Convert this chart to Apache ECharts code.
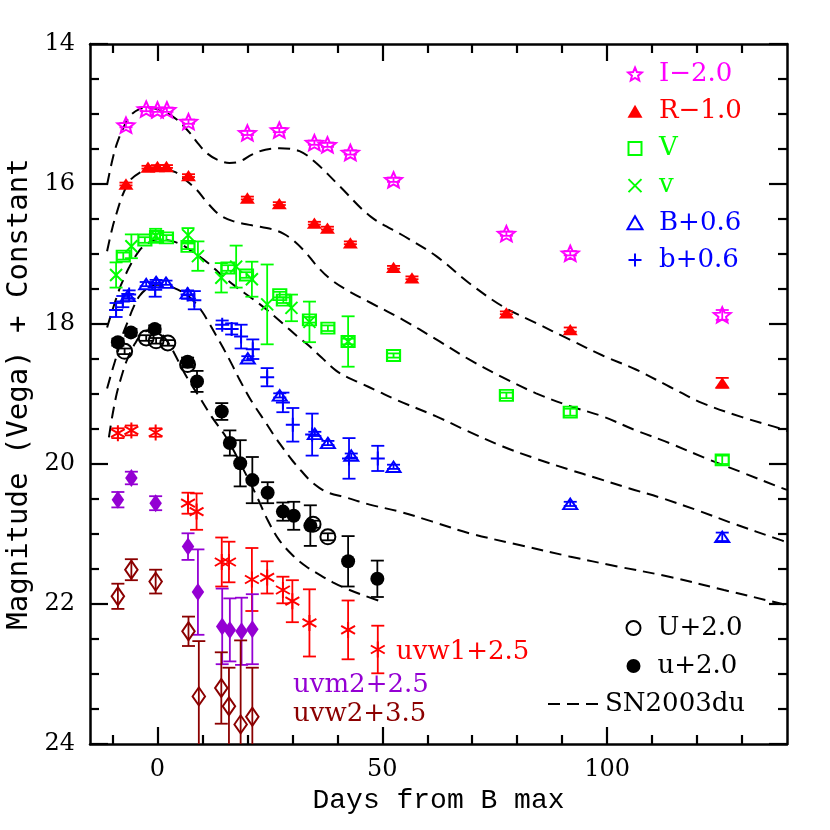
<!DOCTYPE html>
<html><head><meta charset="utf-8">
<script src="https://cdn.jsdelivr.net/npm/echarts@6/dist/echarts.min.js"></script>
<style>html,body{margin:0;padding:0;background:#fff}#c{width:830px;height:830px}</style>
</head><body><div id="c"></div>
<script>
// ---- data: [day, magnitude, error] ----
const I_band = [[-7.0,15.16,0.03],[-2.5,14.93,0.03],[0.0,14.94,0.03],[2.1,14.94,0.03],[6.9,15.11,0.03],[20.0,15.27,0.03],[27.1,15.23,0.03],[34.9,15.41,0.03],[37.8,15.44,0.03],[42.9,15.55,0.03],[52.5,15.94,0.03],[77.6,16.71,0.03],[91.8,16.99,0.03],[125.6,17.87,0.07]];
const R_band = [[-7.0,16.0,0.02],[-2.1,15.76,0.02],[0.0,15.75,0.02],[2.0,15.75,0.02],[6.9,15.88,0.02],[20.0,16.2,0.02],[27.1,16.28,0.02],[34.9,16.56,0.02],[37.8,16.63,0.02],[42.9,16.84,0.02],[52.5,17.19,0.02],[56.6,17.34,0.02],[77.6,17.84,0.02],[91.8,18.08,0.03],[125.6,18.84,0.07]];
const V_band = [[-7.6,17.03,0.05],[-2.8,16.8,0.04],[-0.2,16.75,0.04],[2.0,16.77,0.04],[6.8,16.89,0.04],[15.7,17.2,0.04],[19.8,17.3,0.04],[27.2,17.58,0.04],[28.0,17.66,0.04],[33.8,17.94,0.04],[37.9,18.06,0.04],[42.4,18.25,0.04],[52.5,18.45,0.03],[77.6,19.02,0.04],[91.8,19.26,0.05],[125.6,19.94,0.06]];
const v_band = [[-9.2,17.3,0.18],[-5.8,16.89,0.17],[-0.4,16.74,0.1],[6.8,16.73,0.1],[9.0,17.03,0.21],[14.2,17.34,0.21],[17.5,17.18,0.3],[21.0,17.36,0.25],[24.4,17.72,0.57],[29.8,17.77,0.19],[33.8,17.97,0.29],[42.4,18.25,0.36]];
const B_band = [[-6.6,17.6,0.03],[-2.5,17.43,0.03],[-0.3,17.4,0.03],[1.9,17.41,0.03],[6.7,17.56,0.03],[20.1,18.49,0.03],[27.2,19.02,0.03],[35.0,19.57,0.03],[37.9,19.7,0.03],[43.1,19.88,0.03],[52.5,20.04,0.03],[91.8,20.57,0.03],[125.6,21.04,0.06]];
const b_band = [[-9.2,17.8,0.1],[-7.7,17.68,0.08],[-6.3,17.58,0.06],[-0.5,17.51,0.1],[6.7,17.58,0.06],[8.2,17.66,0.13],[14.4,18.01,0.06],[16.5,18.07,0.08],[18.6,18.18,0.17],[21.2,18.36,0.14],[24.4,18.76,0.13],[27.9,19.12,0.14],[30.1,19.44,0.24],[34.4,19.58,0.3],[42.6,19.92,0.29],[49.0,19.92,0.18]];
const U_band = [[-7.3,18.39,0.04],[-2.5,18.2,0.04],[-0.3,18.24,0.04],[2.3,18.27,0.04],[6.7,18.58,0.04],[34.6,20.86,0.05],[37.9,21.04,0.05]];
const u_band = [[-8.8,18.26,0.05],[-5.9,18.12,0.05],[-0.6,18.07,0.05],[6.7,18.54,0.06],[8.8,18.82,0.15],[14.3,19.25,0.12],[16.1,19.7,0.18],[18.4,19.99,0.33],[21.1,20.23,0.33],[24.5,20.41,0.15],[27.9,20.68,0.13],[30.3,20.74,0.2],[34.0,20.88,0.29],[42.4,21.39,0.36],[48.9,21.64,0.26]];
const uvw1_band = [[-8.8,19.56,0.07],[-5.8,19.52,0.07],[-0.4,19.55,0.06],[6.8,20.56,0.15],[8.7,20.68,0.26],[14.3,21.4,0.35],[15.9,21.4,0.29],[21.0,21.65,0.45],[24.4,21.62,0.23],[27.9,21.8,0.19],[30.0,21.96,0.3],[33.8,22.27,0.48],[42.4,22.37,0.42],[49.0,22.65,0.34]];
const uvm2_band = [[-8.8,20.51,0.11],[-5.8,20.2,0.09],[-0.4,20.56,0.1],[6.8,21.18,0.19],[9.0,21.83,0.61],[14.4,22.32,0.54],[16.1,22.37,0.45],[18.7,22.39,0.48],[21.1,22.36,0.5]];
const uvw2_band = [[-8.8,21.89,0.18],[-5.8,21.51,0.15],[-0.4,21.68,0.17],[6.9,22.39,0.21],[9.2,23.32,0.79],[14.2,23.2,0.51],[15.9,23.46,0.55],[18.5,23.72,1.2],[21.1,23.61,0.7]];

// SN2003du template curves [day, magnitude]
const sn_I = [[-11.2,16.01],[-10,15.65],[-9,15.42],[-7.6,15.2],[-6,15.02],[-4,14.93],[-2,14.91],[0,14.93],[2,14.98],[4.5,15.09],[7.2,15.27],[9,15.42],[11,15.56],[13.5,15.66],[16,15.7],[18.3,15.68],[21,15.58],[24,15.51],[27.2,15.49],[31.6,15.53],[35.3,15.7],[40.5,16.03],[47.5,16.47],[55,16.75],[62,17.03],[69,17.4],[76.8,17.75],[84,17.98],[91.6,18.22],[99,18.45],[106.4,18.65],[114,18.9],[121.2,19.13],[130,19.33],[138.3,19.49],[140,19.53]];
const sn_R = [[-11.2,16.96],[-10,16.62],[-9,16.4],[-8,16.2],[-7,16.05],[-6,15.94],[-4,15.84],[-2,15.79],[1,15.79],[4,15.83],[6,15.93],[8.7,16.08],[11,16.26],[13.8,16.44],[16.8,16.53],[21,16.59],[25.7,16.65],[28,16.71],[30.1,16.8],[33,16.98],[35.3,17.16],[38.3,17.35],[42,17.51],[47.5,17.7],[54.6,17.94],[62,18.22],[69.4,18.51],[77,18.77],[84.2,18.99],[91.6,19.17],[99,19.32],[106.4,19.52],[113.8,19.7],[122,19.92],[130,20.12],[138.3,20.33],[140,20.37]];
const sn_V = [[-11.2,18.05],[-10,17.8],[-8.4,17.49],[-7.6,17.37],[-6.2,17.18],[-3.9,16.94],[-2,16.84],[0,16.79],[2,16.8],[3.5,16.82],[5.5,16.87],[7.2,16.94],[9,17.02],[10.9,17.11],[12.7,17.21],[14.6,17.32],[17.5,17.47],[20.5,17.61],[24,17.78],[28,18.0],[31,18.17],[33.5,18.3],[36.5,18.48],[39.8,18.67],[42.5,18.77],[45,18.84],[49,18.96],[53,19.08],[62,19.32],[69,19.53],[76.8,19.75],[84,19.92],[91.6,20.08],[97.6,20.2],[105,20.35],[112.3,20.49],[120,20.66],[128,20.85],[138.3,21.08],[140,21.12]];
const sn_B = [[-11.2,18.92],[-10,18.65],[-9.1,18.46],[-7.6,18.13],[-6.5,17.95],[-5.4,17.77],[-4,17.6],[-2,17.48],[0,17.44],[2,17.45],[3.5,17.48],[5.5,17.54],[7.2,17.62],[8.7,17.72],[10.1,17.84],[11.6,18.0],[13.1,18.17],[14.6,18.34],[16.5,18.57],[18.3,18.8],[21,19.11],[24.2,19.42],[26,19.6],[28,19.78],[30,19.95],[32,20.1],[34,20.24],[36,20.34],[38,20.41],[42,20.48],[47.2,20.58],[53.8,20.68],[61,20.82],[69.4,20.99],[80,21.15],[91.6,21.32],[102,21.46],[113.8,21.61],[126,21.8],[138.3,21.99],[140,22.02]];
const sn_U = [[-10.8,19.62],[-10,19.3],[-9,18.98],[-8,18.75],[-7,18.55],[-6,18.4],[-5,18.28],[-4,18.18],[-3,18.12],[-2,18.09],[-1,18.08],[0,18.1],[1,18.15],[2,18.23],[3,18.33],[4,18.45],[6,18.7],[7.7,18.88],[9.4,19.05],[12,19.32],[15.3,19.62],[18.5,20.0],[22,20.45],[24.5,20.8],[27,21.08],[30,21.3],[33,21.46],[36,21.58],[39,21.69],[42,21.78],[46,21.88],[50,21.97]];

// axis ticks
const xLabelTicks = [0, 50, 100];
const xMinorTicks = [-10, 10, 20, 30, 40, 60, 70, 80, 90, 110, 120, 130];

const SERIF = 'DejaVu Serif';
const C = {I:'#ff00ff', R:'#ff0000', V:'#00ff00', B:'#0000ff', U:'#000000', uvw1:'#ff0000', uvm2:'#9400d3', uvw2:'#8b0000'};

const P = {
  star: 'path://M10 0L12.645 6.36L19.511 6.91L14.28 11.39L15.878 18.09L10 14.5L4.122 18.09L5.72 11.39L0.489 6.91L7.355 6.36Z',
  square: 'path://M0 0L10 0L10 10L0 10Z',
  cross: 'path://M0 0L10 10M10 0L0 10',
  plus: 'path://M5 0L5 10M0 5L10 5',
  tri: 'path://M5 0L10 8.66L0 8.66Z',
  circ: 'path://M0 5A5 5 0 1 0 10 5A5 5 0 1 0 0 5Z',
  ast: 'path://M5 0L5 10M0.67 2.5L9.33 7.5M0.67 7.5L9.33 2.5',
  diam: 'path://M5 0L10 6L5 12L0 6Z'
};

function errSeries(data, color) {
  return {
    type: 'custom', data: data, z: 2, silent: true,
    encode: {x: 0, y: 1},
    renderItem: function (params, api) {
      const x = api.value(0), y = api.value(1), e = api.value(2);
      const a = api.coord([x, y - e]), b = api.coord([x, y + e]);
      const cs = params.coordSys;
      const t0 = Math.min(a[1], b[1]), b0 = Math.max(a[1], b[1]);
      const t = Math.max(t0, cs.y), bt = Math.min(b0, cs.y + cs.height);
      const h = 6.5, cx = a[0];
      const st = {stroke: color, lineWidth: 1.8};
      const ch = [{type: 'line', shape: {x1: cx, y1: t, x2: cx, y2: bt}, style: st}];
      if (t0 >= cs.y) ch.push({type: 'line', shape: {x1: cx - h, y1: t0, x2: cx + h, y2: t0}, style: st});
      if (b0 <= cs.y + cs.height) ch.push({type: 'line', shape: {x1: cx - h, y1: b0, x2: cx + h, y2: b0}, style: st});
      return {type: 'group', children: ch};
    }
  };
}
function markSeries(name, data, symbol, size, color, filled) {
  return {
    name: name, type: 'scatter', data: data.map(d => [d[0], d[1]]), z: 3, silent: true,
    symbol: symbol, symbolSize: size, symbolKeepAspect: true,
    itemStyle: filled ? {color: color, borderColor: color, borderWidth: 0, opacity: 1}
                      : {color: 'none', borderColor: color, borderWidth: 2, opacity: 1}
  };
}
function snSeries(data) {
  return {
    name: 'SN2003du', type: 'line', data: data, symbol: 'none', smooth: 0.35, z: 1, silent: true,
    itemStyle: {color: '#000', opacity: 0},
    lineStyle: {color: '#000', width: 2, type: [12, 7], opacity: 1}
  };
}

const bands = [
  ['I−2.0', I_band, P.star, [17, 16], C.I, false],
  ['R−1.0', R_band, P.tri, [15, 13], C.R, true],
  ['V', V_band, P.square, [13, 11], C.V, false],
  ['v', v_band, P.cross, [12, 12], C.V, false],
  ['B+0.6', B_band, P.tri, [14, 12], C.B, false],
  ['b+0.6', b_band, P.plus, [14, 14], C.B, false],
  ['U+2.0', U_band, P.circ, [15, 15], C.U, false],
  ['u+2.0', u_band, 'circle', [14, 14], C.U, true],
  ['uvw1+2.5', uvw1_band, P.ast, [16, 16], C.uvw1, false],
  ['uvm2+2.5', uvm2_band, P.diam, [15, 18], C.uvm2, true],
  ['uvw2+3.5', uvw2_band, P.diam, [15, 18], C.uvw2, false]
];

const series = [];
[sn_I, sn_R, sn_V, sn_B, sn_U].forEach(c => series.push(snSeries(c)));
bands.forEach(b => series.push(errSeries(b[1], b[4])));
bands.forEach(b => series.push(markSeries(b[0], b[1], b[2], b[3], b[4], b[5])));

const gridRect = {left: 90, top: 44, width: 697, height: 700, containLabel: false, outerBoundsMode: 'none'};
const axisLineStyle = {color: '#000', width: 2.5};
const lblFont = {fontFamily: SERIF, fontSize: 24, color: '#000'};
const legText = {fontFamily: SERIF, fontSize: 26, lineHeight: 26};

const option = {
  backgroundColor: '#fff',
  animation: false,
  grid: [Object.assign({}, gridRect), Object.assign({}, gridRect)],
  xAxis: [
    {gridIndex: 0, type: 'value', position: 'bottom', min: -15, max: 140,
     axisLine: {show: true, onZero: false, lineStyle: axisLineStyle},
     axisTick: {show: true, inside: true, length: 17, lineStyle: {width: 2.2, color: '#000'}, customValues: xLabelTicks},
     axisLabel: Object.assign({show: true, margin: 14, customValues: xLabelTicks}, lblFont),
     splitLine: {show: false},
     name: 'Days from B max', nameLocation: 'middle', nameGap: 42,
     nameTextStyle: {fontFamily: 'Liberation Mono', fontSize: 28, color: '#000'}},
    {gridIndex: 0, type: 'value', position: 'top', min: -15, max: 140,
     axisLine: {show: true, onZero: false, lineStyle: axisLineStyle},
     axisTick: {show: true, inside: true, length: 17, lineStyle: {width: 2.2, color: '#000'}, customValues: xLabelTicks},
     axisLabel: {show: false}, splitLine: {show: false}},
    {gridIndex: 1, type: 'value', position: 'bottom', min: -15, max: 140,
     axisLine: {show: false},
     axisTick: {show: true, inside: true, length: 9, lineStyle: {width: 2.2, color: '#000'}, customValues: xMinorTicks},
     axisLabel: {show: false}, splitLine: {show: false}},
    {gridIndex: 1, type: 'value', position: 'top', min: -15, max: 140,
     axisLine: {show: false},
     axisTick: {show: true, inside: true, length: 9, lineStyle: {width: 2.2, color: '#000'}, customValues: xMinorTicks},
     axisLabel: {show: false}, splitLine: {show: false}}
  ],
  yAxis: [
    {gridIndex: 0, type: 'value', position: 'left', inverse: true, min: 14, max: 24, interval: 2,
     axisLine: {show: true, onZero: false, lineStyle: axisLineStyle},
     axisTick: {show: true, inside: true, length: 18, lineStyle: {width: 2.2, color: '#000'}},
     minorTick: {show: true, splitNumber: 4, length: 9, lineStyle: {width: 2.2, color: '#000'}},
     axisLabel: Object.assign({show: true, margin: 15}, lblFont),
     splitLine: {show: false},
     name: 'Magnitude (Vega) + Constant', nameLocation: 'middle', nameGap: 56,
     nameTextStyle: {fontFamily: 'DejaVu Sans Mono', fontSize: 29, color: '#000'}},
    {gridIndex: 0, type: 'value', position: 'right', inverse: true, min: 14, max: 24, interval: 2,
     axisLine: {show: true, onZero: false, lineStyle: axisLineStyle},
     axisTick: {show: true, inside: true, length: 18, lineStyle: {width: 2.2, color: '#000'}},
     minorTick: {show: true, splitNumber: 4, length: 9, lineStyle: {width: 2.2, color: '#000'}},
     axisLabel: {show: false}, splitLine: {show: false}},
    {gridIndex: 1, type: 'value', show: false, inverse: true, min: 14, max: 24}
  ],
  legend: [
    {data: ['I−2.0', 'R−1.0', 'V', 'v', 'B+0.6', 'b+0.6'].map((n, i) => ({name: n, textStyle: {color: [C.I, C.R, C.V, C.V, C.B, C.B][i]}})),
     orient: 'vertical', left: 625, top: 61, itemWidth: 38, itemHeight: 13, itemGap: 11.2, padding: 0,
     selectedMode: false, textStyle: legText},
    {data: [{name: 'U+2.0', textStyle: {color: '#000'}}, {name: 'u+2.0', textStyle: {color: '#000'}}],
     orient: 'vertical', left: 624, top: 615, itemWidth: 38, itemHeight: 14, itemGap: 12, padding: 0,
     selectedMode: false, textStyle: legText},
    {data: [{name: 'SN2003du', textStyle: {color: '#000'}}],
     orient: 'vertical', left: 547, top: 691, itemWidth: 52, itemHeight: 14, padding: 0,
     selectedMode: false, textStyle: legText}
  ],
  graphic: [
    {type: 'text', x: 396, y: 652, silent: true, style: {text: 'uvw1+2.5', fill: C.uvw1, font: '26px "DejaVu Serif"', verticalAlign: 'middle', align: 'left'}},
    {type: 'text', x: 293, y: 685, silent: true, style: {text: 'uvm2+2.5', fill: C.uvm2, font: '26px "DejaVu Serif"', verticalAlign: 'middle', align: 'left'}},
    {type: 'text', x: 293, y: 714, silent: true, style: {text: 'uvw2+3.5', fill: C.uvw2, font: '26px "DejaVu Serif"', verticalAlign: 'middle', align: 'left'}}
  ],
  series: series
};

const chart = echarts.init(document.getElementById('c'), null, {renderer: 'canvas'});
chart.setOption(option);
</script>
</body></html>
